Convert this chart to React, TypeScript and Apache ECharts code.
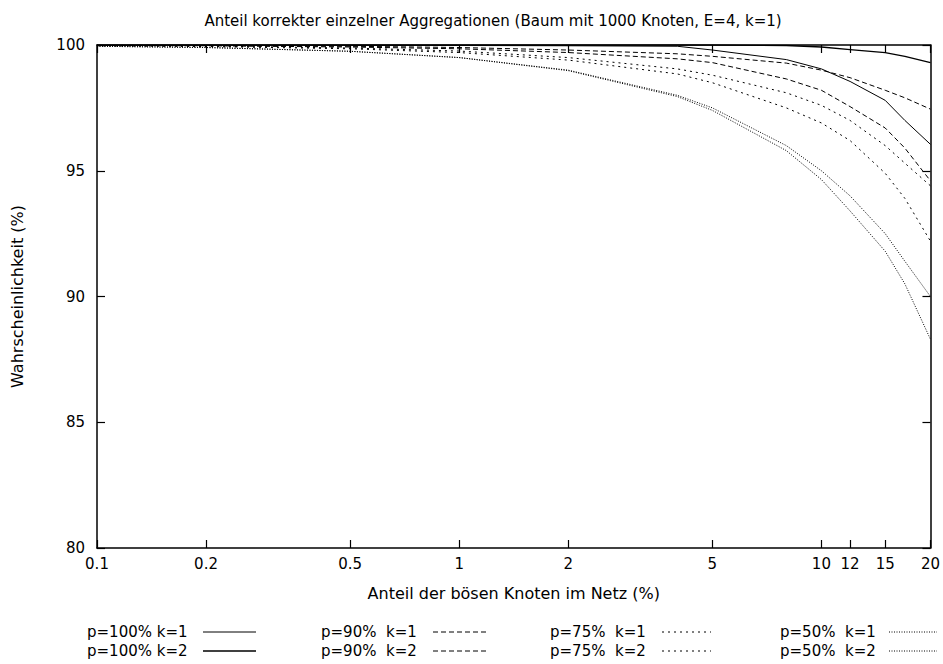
import React, { useEffect, useRef } from "react";
import * as echarts from "echarts";

// Fraction of malicious nodes (%)
const X_VALUES = [0.1, 0.2, 0.5, 1, 2, 4, 5, 8, 10, 12, 15, 17, 20];
const X_TICKS = [0.1, 0.2, 0.5, 1, 2, 5, 10, 12, 15, 20];

const P100_K1 = [100, 100, 99.99, 99.98, 99.97, 99.95, 99.8, 99.42, 99.05, 98.55, 97.8, 97.0, 96.05];
const P100_K2 = [100, 100, 100, 100, 100, 100, 100, 99.98, 99.92, 99.82, 99.7, 99.55, 99.3];
const P90_K1 = [99.98, 99.97, 99.92, 99.85, 99.7, 99.45, 99.3, 98.65, 98.2, 97.55, 96.7, 95.9, 94.6];
const P90_K2 = [99.99, 99.98, 99.95, 99.9, 99.8, 99.65, 99.55, 99.28, 99.0, 98.7, 98.2, 97.9, 97.45];
const P75_K1 = [99.97, 99.94, 99.85, 99.7, 99.4, 98.85, 98.5, 97.5, 96.9, 96.2, 94.9, 93.9, 92.2];
const P75_K2 = [99.98, 99.96, 99.88, 99.76, 99.5, 99.05, 98.8, 98.1, 97.6, 97.0, 96.0, 95.3, 94.4];
const P50_K1 = [99.95, 99.9, 99.75, 99.5, 98.98, 97.95, 97.4, 95.8, 94.65, 93.4, 91.8, 90.5, 88.3];
const P50_K2 = [99.95, 99.9, 99.75, 99.5, 99.0, 98.0, 97.5, 96.0, 95.0, 94.0, 92.5, 91.4, 90.0];

const SERIES_NAMES = [
  "p=100% k=1",
  "p=100% k=2",
  "p=90%  k=1",
  "p=90%  k=2",
  "p=75%  k=1",
  "p=75%  k=2",
  "p=50%  k=1",
  "p=50%  k=2",
];
const SERIES_VALUES = [P100_K1, P100_K2, P90_K1, P90_K2, P75_K1, P75_K2, P50_K1, P50_K2];

const FONT = "DejaVu Sans";

const LINE_STYLES: { width: number; dash: number[] | null }[] = [
  { width: 1, dash: null },
  { width: 1.3, dash: null },
  { width: 1, dash: [5, 3] },
  { width: 1, dash: [5, 3] },
  { width: 1, dash: [2, 4] },
  { width: 1, dash: [2, 4] },
  { width: 1, dash: [1, 1.5] },
  { width: 1, dash: [1, 1.5] },
];

const LEGEND_TEXT_X = [87, 321, 550, 780];
const LEGEND_LINE_X = [203, 433, 662, 889];
const LEGEND_LINE_LEN = [53, 53, 49, 48];
const LEGEND_ROW_Y = [632, 651];

const fmt = (v: number) => String(+Number(v).toPrecision(3));

export default function App() {
  const ref = useRef<HTMLDivElement>(null);
  useEffect(() => {
    if (!ref.current) return;
    const chart = echarts.init(ref.current, null, { renderer: "svg" });

    const series = SERIES_NAMES.map((name, i) => ({
      name,
      type: "line",
      showSymbol: false,
      symbol: "none",
      data: X_VALUES.map((x, j) => [x, SERIES_VALUES[i][j]]),
      lineStyle: {
        color: "#000",
        width: LINE_STYLES[i].width,
        type: LINE_STYLES[i].dash ? LINE_STYLES[i].dash : "solid",
      },
      itemStyle: { color: "#000" },
      silent: true,
    }));

    const legendGraphics: any[] = [];
    SERIES_NAMES.forEach((name, i) => {
      const col = Math.floor(i / 2);
      const row = i % 2;
      const y = LEGEND_ROW_Y[row];
      legendGraphics.push({
        type: "text",
        x: LEGEND_TEXT_X[col],
        y,
        style: {
          text: name,
          fontFamily: FONT,
          fontSize: 15,
          fill: "#000",
          textVerticalAlign: "middle",
          verticalAlign: "middle",
        },
      });
      legendGraphics.push({
        type: "line",
        shape: {
          x1: LEGEND_LINE_X[col],
          y1: y,
          x2: LEGEND_LINE_X[col] + LEGEND_LINE_LEN[col],
          y2: y,
        },
        style: {
          stroke: "#000",
          lineWidth: LINE_STYLES[i].width,
          lineDash: LINE_STYLES[i].dash || undefined,
        },
      });
    });

    const axisLine = { show: true, lineStyle: { color: "#000", width: 1.5 } };
    const tickStyle = { color: "#000", width: 1.2 };

    chart.setOption({
      animation: false,
      backgroundColor: "#fff",
      title: {
        text: "Anteil korrekter einzelner Aggregationen (Baum mit 1000 Knoten, E=4, k=1)",
        left: 488,
        top: 8,
        textAlign: "center",
        textStyle: { fontFamily: FONT, fontSize: 15, fontWeight: "normal", color: "#000" },
      },
      grid: { left: 97, right: 12, top: 45, bottom: 116, containLabel: false },
      xAxis: [
        {
          type: "log",
          logBase: 10,
          min: 0.1,
          max: 20,
          position: "bottom",
          name: "Anteil der bösen Knoten im Netz (%)",
          nameLocation: "middle",
          nameGap: 37,
          nameTextStyle: { fontFamily: FONT, fontSize: 16, color: "#000" },
          axisLine,
          axisTick: { show: true, inside: true, length: 8, lineStyle: tickStyle, customValues: X_TICKS },
          minorTick: { show: false },
          axisLabel: {
            show: true,
            margin: 8,
            fontFamily: FONT,
            fontSize: 15,
            color: "#000",
            customValues: X_TICKS,
            formatter: (v: number) => fmt(v),
          },
          splitLine: { show: false },
        },
        {
          type: "log",
          logBase: 10,
          min: 0.1,
          max: 20,
          position: "top",
          axisLine,
          axisTick: { show: true, inside: true, length: 8, lineStyle: tickStyle, customValues: X_TICKS },
          axisLabel: { show: false },
          splitLine: { show: false },
        },
      ],
      yAxis: [
        {
          type: "value",
          min: 80,
          max: 100,
          interval: 5,
          position: "left",
          name: "Wahrscheinlichkeit (%)",
          nameLocation: "middle",
          nameGap: 72,
          nameTextStyle: { fontFamily: FONT, fontSize: 16, color: "#000" },
          axisLine,
          axisTick: { show: true, inside: true, length: 8, lineStyle: tickStyle },
          axisLabel: { margin: 12, fontFamily: FONT, fontSize: 15, color: "#000" },
          splitLine: { show: false },
        },
        {
          type: "value",
          min: 80,
          max: 100,
          interval: 5,
          position: "right",
          axisLine,
          axisTick: { show: true, inside: true, length: 8, lineStyle: tickStyle },
          axisLabel: { show: false },
          splitLine: { show: false },
        },
      ],
      series,
      graphic: legendGraphics,
    });

    return () => chart.dispose();
  }, []);

  return <div ref={ref} style={{ width: 943, height: 664, position: "absolute", left: 0, top: 0 }} />;
}
